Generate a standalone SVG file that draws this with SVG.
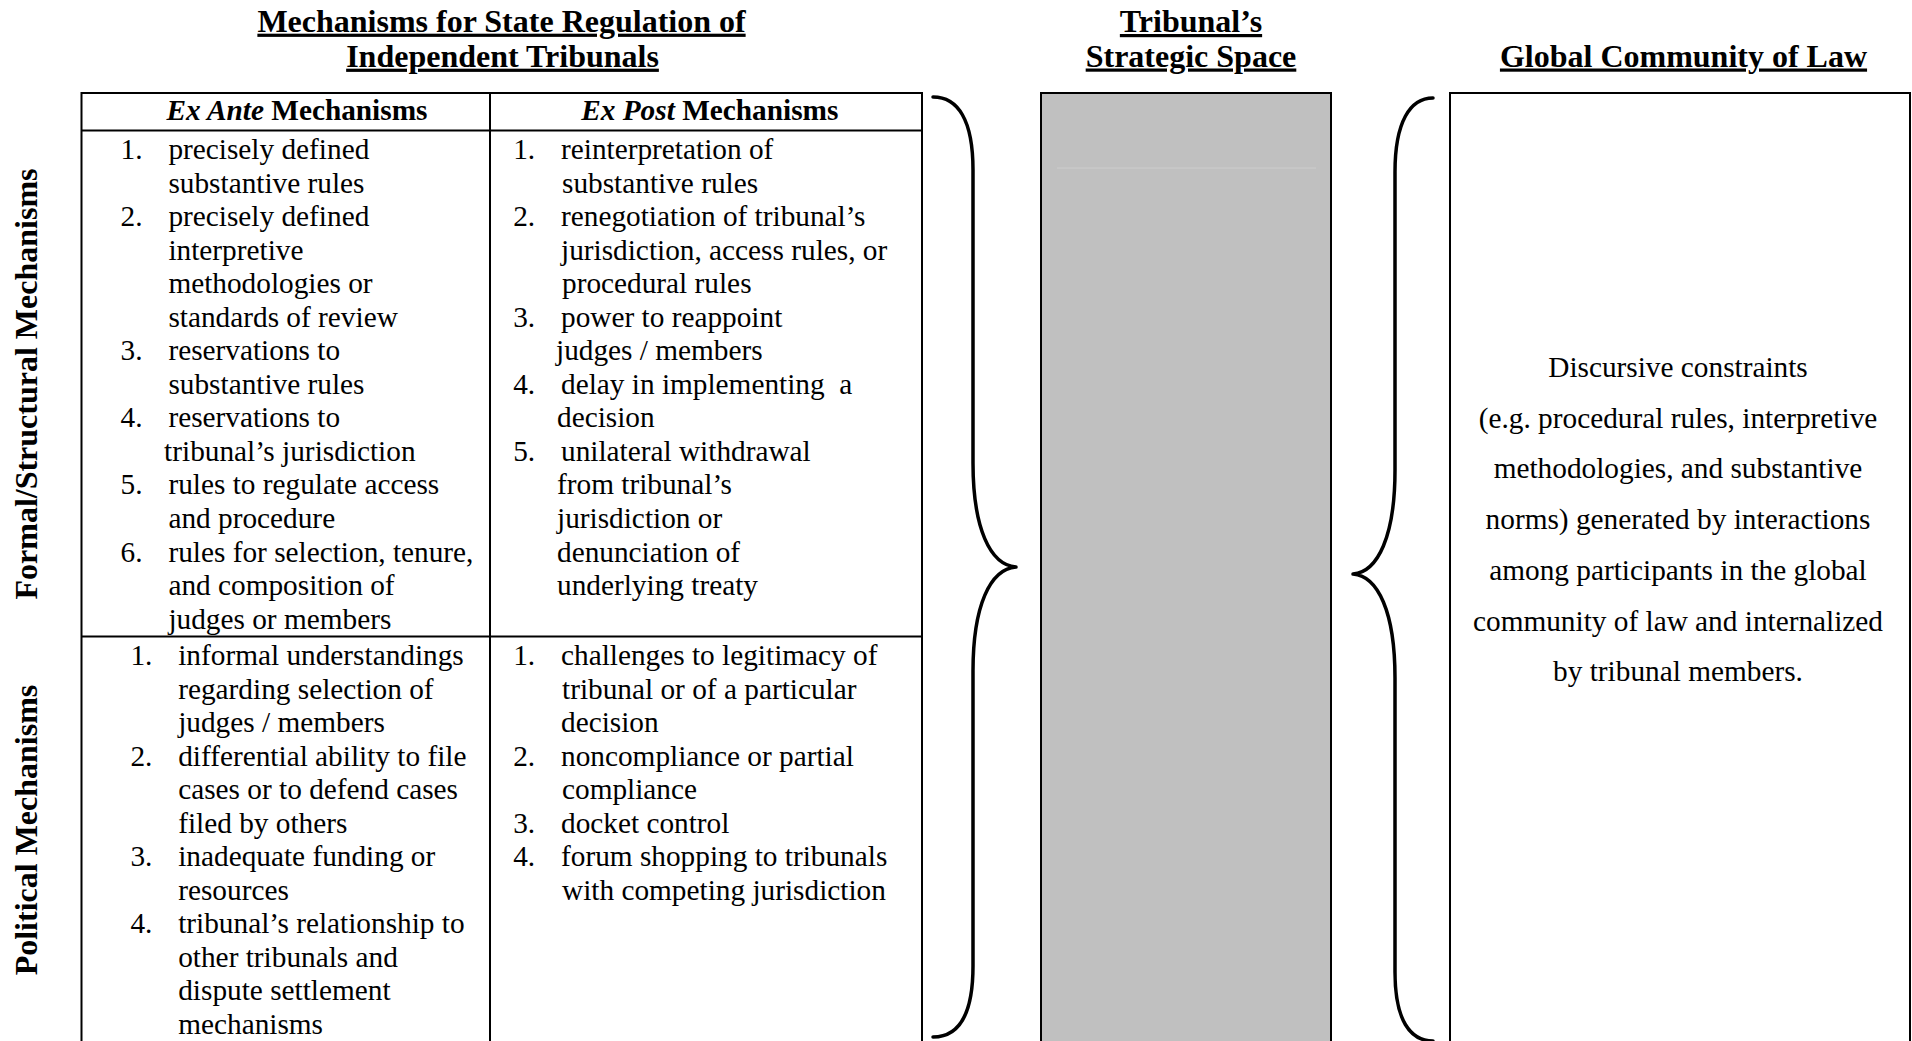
<svg xmlns="http://www.w3.org/2000/svg" width="1912" height="1041" viewBox="0 0 1912 1041">
<style>
text{font-family:"Liberation Serif","Times New Roman",serif;fill:#000}
.h{font-size:32px;font-weight:bold}
.u{text-decoration:underline}
.b{font-size:29.3px}
.hb{font-size:29.3px;font-weight:bold}
.pre{white-space:pre}
.ln{stroke:#000;stroke-width:2;fill:none}
.br{stroke:#000;stroke-width:3.5;fill:none;stroke-linecap:round;stroke-linejoin:round}
</style>
<rect width="1912" height="1041" fill="#fff"/>

<g id="title-mechanisms">
<text class="h u" x="501.5" y="31.7" text-anchor="middle">Mechanisms for State Regulation of</text>
<text class="h u" x="502.5" y="66.7" text-anchor="middle">Independent Tribunals</text>
</g>
<g id="title-strategic-space">
<text class="h u" x="1191" y="32" text-anchor="middle">Tribunal’s</text>
<text class="h u" x="1191" y="66.5" text-anchor="middle">Strategic Space</text>
</g>
<g id="title-global-community">
<text class="h u" x="1683.5" y="66.5" text-anchor="middle">Global Community of Law</text>
</g>

<g id="label-formal">
<text class="h" transform="translate(37,384) rotate(-90)" text-anchor="middle">Formal/Structural Mechanisms</text>
</g>
<g id="label-political">
<text class="h" transform="translate(37,830) rotate(-90)" text-anchor="middle">Political Mechanisms</text>
</g>

<g id="mechanisms-table">
<rect class="ln" x="81.5" y="93" width="840.5" height="970"/>
<line class="ln" x1="81.5" y1="130.5" x2="922" y2="130.5"/>
<line class="ln" x1="81.5" y1="636.5" x2="922" y2="636.5"/>
<line class="ln" x1="490" y1="93" x2="490" y2="1060"/>
<text class="hb" x="297" y="120" text-anchor="middle"><tspan font-style="italic">Ex Ante</tspan> Mechanisms</text>
<text class="hb" x="709.8" y="120" text-anchor="middle"><tspan font-style="italic">Ex Post</tspan> Mechanisms</text>
</g>

<g id="cell-formal-ex-ante">
<text class="b" x="120.6" y="159">1.</text><text class="b" x="168.4" y="159">precisely defined</text>
<text class="b" x="168.4" y="192.5">substantive rules</text>
<text class="b" x="120.6" y="226.1">2.</text><text class="b" x="168.4" y="226.1">precisely defined</text>
<text class="b" x="168.4" y="259.6">interpretive</text>
<text class="b" x="168.4" y="293.2">methodologies or</text>
<text class="b" x="168.4" y="326.7">standards of review</text>
<text class="b" x="120.6" y="360.2">3.</text><text class="b" x="168.4" y="360.2">reservations to</text>
<text class="b" x="168.4" y="393.8">substantive rules</text>
<text class="b" x="120.6" y="427.3">4.</text><text class="b" x="168.4" y="427.3">reservations to</text>
<text class="b" x="164.1" y="460.9">tribunal’s jurisdiction</text>
<text class="b" x="120.6" y="494.4">5.</text><text class="b" x="168.4" y="494.4">rules to regulate access</text>
<text class="b" x="168.4" y="527.9">and procedure</text>
<text class="b" x="120.6" y="561.5">6.</text><text class="b" x="168.4" y="561.5">rules for selection, tenure,</text>
<text class="b" x="168.4" y="595">and composition of</text>
<text class="b" x="168.4" y="628.6">judges or members</text>
</g>

<g id="cell-formal-ex-post">
<text class="b" x="513.2" y="159">1.</text><text class="b" x="561" y="159">reinterpretation of</text>
<text class="b" x="562" y="192.5">substantive rules</text>
<text class="b" x="513.2" y="226.1">2.</text><text class="b" x="561" y="226.1">renegotiation of tribunal’s</text>
<text class="b" x="561" y="259.6">jurisdiction, access rules, or</text>
<text class="b" x="562" y="293.2">procedural rules</text>
<text class="b" x="513.2" y="326.7">3.</text><text class="b" x="561" y="326.7">power to reappoint</text>
<text class="b" x="556" y="360.2">judges / members</text>
<text class="b" x="513.2" y="393.8">4.</text><text class="b pre" x="561" y="393.8">delay in implementing  a</text>
<text class="b" x="557" y="427.3">decision</text>
<text class="b" x="513.2" y="460.9">5.</text><text class="b" x="561" y="460.9">unilateral withdrawal</text>
<text class="b" x="557" y="494.4">from tribunal’s</text>
<text class="b" x="557" y="527.9">jurisdiction or</text>
<text class="b" x="557" y="561.5">denunciation of</text>
<text class="b" x="557" y="595">underlying treaty</text>
</g>

<g id="cell-political-ex-ante">
<text class="b" x="130.4" y="665">1.</text><text class="b" x="178.2" y="665">informal understandings</text>
<text class="b" x="178.2" y="698.5">regarding selection of</text>
<text class="b" x="178.2" y="732">judges / members</text>
<text class="b" x="130.4" y="765.5">2.</text><text class="b" x="178.2" y="765.5">differential ability to file</text>
<text class="b" x="178.2" y="799">cases or to defend cases</text>
<text class="b" x="178.2" y="832.5">filed by others</text>
<text class="b" x="130.4" y="866">3.</text><text class="b" x="178.2" y="866">inadequate funding or</text>
<text class="b" x="178.2" y="899.5">resources</text>
<text class="b" x="130.4" y="933">4.</text><text class="b" x="178.2" y="933">tribunal’s relationship to</text>
<text class="b" x="178.2" y="966.5">other tribunals and</text>
<text class="b" x="178.2" y="1000">dispute settlement</text>
<text class="b" x="178.2" y="1033.5">mechanisms</text>
</g>

<g id="cell-political-ex-post">
<text class="b" x="513.2" y="665">1.</text><text class="b" x="561" y="665">challenges to legitimacy of</text>
<text class="b" x="562" y="698.5">tribunal or of a particular</text>
<text class="b" x="561" y="732">decision</text>
<text class="b" x="513.2" y="765.5">2.</text><text class="b" x="561" y="765.5">noncompliance or partial</text>
<text class="b" x="562" y="799">compliance</text>
<text class="b" x="513.2" y="832.5">3.</text><text class="b" x="561" y="832.5">docket control</text>
<text class="b" x="513.2" y="866">4.</text><text class="b" x="561" y="866">forum shopping to tribunals</text>
<text class="b" x="562" y="899.5">with competing jurisdiction</text>
</g>

<g id="strategic-space">
<rect x="1041" y="93" width="290" height="970" fill="#c0c0c0" stroke="#000" stroke-width="2"/>
<line x1="1057" y1="168" x2="1316" y2="168" stroke="#cdcdcd" stroke-width="1"/>
</g>

<g id="global-community">
<rect x="1450" y="93" width="460" height="970" fill="#fff" stroke="#000" stroke-width="2"/>
<text class="b" text-anchor="middle" x="1678" y="377">Discursive constraints</text>
<text class="b" text-anchor="middle" x="1678" y="427.7">(e.g. procedural rules, interpretive</text>
<text class="b" text-anchor="middle" x="1678" y="478.4">methodologies, and substantive</text>
<text class="b" text-anchor="middle" x="1678" y="529.1">norms) generated by interactions</text>
<text class="b" text-anchor="middle" x="1678" y="579.8">among participants in the global</text>
<text class="b" text-anchor="middle" x="1678" y="630.5">community of law and internalized</text>
<text class="b" text-anchor="middle" x="1678" y="681.2">by tribunal members.</text>
</g>

<g id="connectors">
<path class="br" d="M933,97 C958,97 973,120 973,170 L973,463 C973,528 990,565 1016,567 C990,569 973,606 973,671 L973,966 C973,1016 958,1037 933,1037"/>
<path class="br" d="M1433,98 C1410,98 1395,122 1395,172 L1395,470 C1395,536 1378,572 1353,574 C1378,576 1395,612 1395,678 L1395,972 C1395,1020 1410,1041 1433,1041"/>
</g>
</svg>
